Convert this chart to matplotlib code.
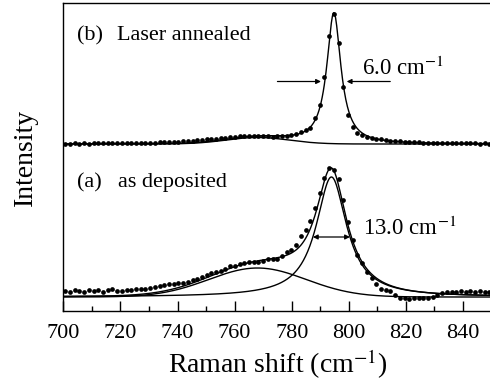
import numpy as np
import matplotlib
matplotlib.use('agg')
import matplotlib.pyplot as plt

plt.rcParams['font.family'] = 'Liberation Serif'
plt.rcParams['mathtext.fontset'] = 'stix'

# Raman spectra, one point every 1.65 cm-1 starting at 700.7 cm-1
shift = 700.7 + 1.65 * np.arange(91)

# (b) laser annealed film
annealed = [167.5, 167.3, 167.6, 167.4, 167.7, 167.5, 167.8, 167.6, 167.9, 167.7,
            167.8, 168.0, 167.9, 168.1, 168.0, 168.3, 168.2, 168.4, 168.5, 168.4,
            168.7, 168.8, 169.0, 169.1, 169.4, 169.6, 169.9, 170.3, 170.6, 171.1,
            171.6, 172.0, 172.5, 173.0, 173.4, 173.9, 174.2, 174.6, 174.9, 175.0,
            175.1, 175.0, 174.8, 174.7, 174.5, 174.6, 174.8, 175.2, 175.9, 177.0,
            178.8, 181.0, 183.5, 192.7, 206.0, 234.0, 275.0, 297.0, 267.7, 224.0,
            196.0, 184.3, 178.3, 176.0, 174.2, 173.0, 172.2, 171.6, 171.0, 170.4,
            169.9, 169.6, 169.3, 169.0, 168.9, 168.6, 168.5, 168.3, 168.2, 168.0,
            168.1, 167.9, 167.8, 167.9, 167.7, 167.8, 167.6, 167.7, 167.5, 167.6,
            167.5]

# (a) as deposited film
deposited = [20.5, 19.0, 21.5, 20.0, 18.8, 20.8, 20.2, 21.0, 19.5, 20.6,
             21.8, 20.0, 19.6, 20.9, 21.5, 22.5, 22.0, 22.5, 23.5, 24.0,
             25.0, 26.0, 27.0, 27.5, 28.0, 28.2, 29.5, 31.0, 32.5, 33.8,
             36.0, 38.2, 39.0, 40.2, 42.5, 44.8, 45.5, 46.9, 48.0, 49.2,
             49.0, 48.8, 50.0, 51.6, 52.5, 52.4, 55.5, 59.5, 61.0, 66.0,
             75.0, 81.0, 90.0, 103.0, 118.0, 133.0, 142.7, 141.0, 131.7, 111.0,
             89.0, 71.0, 56.0, 47.7, 39.3, 33.0, 27.0, 22.0, 21.0, 20.5,
             16.0, 13.5, 12.8, 12.5, 13.0, 12.8, 13.2, 13.5, 14.5, 16.5,
             18.0, 19.0, 19.5, 18.8, 19.6, 19.2, 20.0, 19.3, 19.8, 19.0,
             19.5]

# fit parameters: baseline, broad Gaussian (amp, centre, sigma), Lorentzian (amp, centre, FWHM)
base_b, broad_b, peak_b = 167.0, (6.5, 768.0, 11.0), (131.0, 794.75, 6.0)
base_a, broad_a, peak_a = 14.0, (29.0, 768.0, 17.0), (120.0, 793.9, 13.0)


def gauss(x, amp, x0, sig):
    return amp * np.exp(-0.5 * ((x - x0) / sig) ** 2)


def lorentz(x, amp, x0, fwhm):
    return amp / (1 + (2 * (x - x0) / fwhm) ** 2)


xf = np.linspace(700, 850, 800)

fig = plt.figure(figsize=(4.9, 3.84), dpi=100)
ax = fig.add_axes([63.3 / 490, 73 / 384, 428.3 / 490, 308 / 384])

lw = 1.0
ms = 3.4
# annealed: data, total fit and the weak broad band
ax.plot(shift, annealed, 'o', ms=ms, color='black', mew=0)
ax.plot(xf, base_b + gauss(xf, *broad_b) + lorentz(xf, *peak_b), color='black', lw=lw)
ax.plot(xf, base_b + gauss(xf, *broad_b), color='black', lw=lw)

# as deposited: data, total fit and both components
ax.plot(shift, deposited, 'o', ms=ms, color='black', mew=0)
ax.plot(xf, base_a + gauss(xf, *broad_a) + lorentz(xf, *peak_a), color='black', lw=lw)
ax.plot(xf, base_a + gauss(xf, *broad_a), color='black', lw=lw)
ax.plot(xf, base_a + lorentz(xf, *peak_a), color='black', lw=lw)

# FWHM markers
amp, x0, w = peak_b
yb = base_b + amp / 2 - 3
arr = dict(arrowstyle='-|>', color='black', lw=0.9, mutation_scale=7, shrinkA=0, shrinkB=0)
ax.annotate('', xy=(x0 - w / 2 - 1.5, yb), xytext=(775, yb), arrowprops=arr)
ax.annotate('', xy=(x0 + w / 2 + 1.5, yb), xytext=(814.5, yb), arrowprops=arr)
ax.text(804.5, 236, f'{w:.1f} cm$^{{-1}}$', fontsize=16.5, ha='left', va='baseline')

amp, x0, w = peak_a
ya = base_a + amp / 2
arr2 = dict(arrowstyle='<|-|>', color='black', lw=0.9, mutation_scale=7, shrinkA=0, shrinkB=0)
ax.annotate('', xy=(x0 - w / 2, ya), xytext=(x0 + w / 2, ya), arrowprops=arr2)
ax.text(804.9, 76, f'{w:.1f} cm$^{{-1}}$', fontsize=16.5, ha='left', va='baseline')

ax.text(704.8, 271, '(b)', fontsize=16, ha='left', va='baseline')
ax.text(718.8, 271, 'Laser annealed', fontsize=16, ha='left', va='baseline')
ax.text(704.8, 123.7, '(a)', fontsize=16, ha='left', va='baseline')
ax.text(719.2, 123.7, 'as deposited', fontsize=16, ha='left', va='baseline')

ax.set_xlim(700, 850)
ax.set_ylim(0, 308)
ax.set_xticks(np.arange(700, 841, 20))
ax.set_xticks(np.arange(710, 850, 20), minor=True)
ax.set_yticks([])
ax.tick_params(axis='x', which='both', direction='in', width=1.0, labelsize=16, pad=9)
ax.tick_params(axis='x', which='major', length=7)
ax.tick_params(axis='x', which='minor', length=3.5)
for s in ax.spines.values():
    s.set_linewidth(1.0)
ax.spines['right'].set_visible(False)

ax.set_xlabel('Raman shift (cm$^{-1}$)', fontsize=20, labelpad=4)
ax.set_ylabel('Intensity', fontsize=20, labelpad=18)

fig.savefig('out.png', dpi=100)
